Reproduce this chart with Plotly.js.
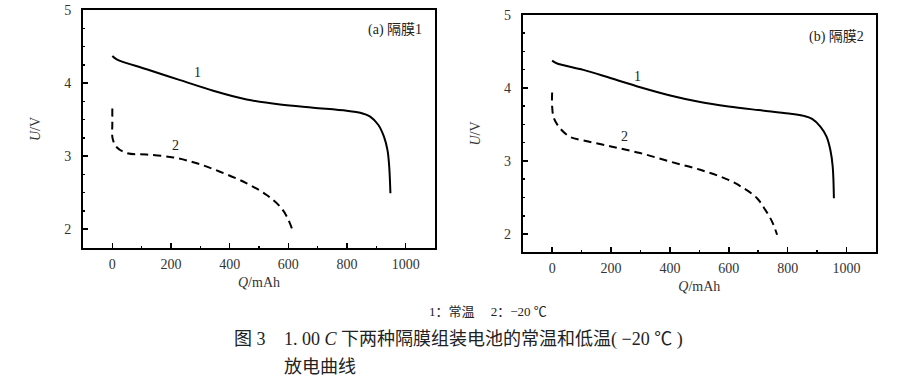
<!DOCTYPE html>
<html><head><meta charset="utf-8">
<script src="https://cdn.plot.ly/plotly-3.0.1.min.js"></script>
<style>body{margin:0;background:#fff}#c{width:911px;height:382px}</style>
</head><body><div id="c"></div>
<script>
// Panel (a) 隔膜1
const a1Q = [0, 15, 117, 231, 344, 458, 572, 685, 799, 845, 879, 907, 926, 938, 944, 948];
const a1U = [4.37, 4.325, 4.188, 4.04, 3.895, 3.775, 3.705, 3.662, 3.62, 3.593, 3.54, 3.425, 3.265, 3.08, 2.85, 2.49];
const a2Q = [0, 0, 1, 15, 49, 117, 208, 288, 367, 458, 526, 572, 595, 612];
const a2U = [3.65, 3.45, 3.24, 3.12, 3.04, 3.02, 2.98, 2.90, 2.785, 2.626, 2.466, 2.306, 2.17, 2.01];
// Panel (b) 隔膜2
const b1Q = [0, 15, 106, 200, 299, 401, 503, 599, 701, 804, 855, 883, 911, 932, 945, 953, 957];
const b1U = [4.372, 4.336, 4.245, 4.13, 4.008, 3.895, 3.805, 3.745, 3.695, 3.648, 3.616, 3.575, 3.47, 3.333, 3.15, 2.92, 2.49];
const b2Q = [0, 0, 6, 26, 60, 106, 200, 299, 401, 503, 599, 650, 696, 724, 747, 764];
const b2U = [3.935, 3.743, 3.585, 3.45, 3.33, 3.28, 3.197, 3.107, 2.99, 2.878, 2.74, 2.628, 2.49, 2.33, 2.17, 1.99];

const panelLabels = ['(a) 隔膜1', '(b) 隔膜2'];
const curveLabels = ['1', '2'];
const xTitle = '<i>Q</i>/mAh';
const yTitle = '<i>U</i>/V';
const legendText = '1：常温　 2：−20 ℃';
const captionNo = '图 3';
const captionL1 = '1. 00 <i>C</i> 下两种隔膜组装电池的常温和低温( −20 ℃ )';
const captionL2 = '放电曲线';

const serif = '"Times New Roman", "Liberation Serif", "Noto Sans CJK SC", serif';
const solid = {color: '#000', width: 2, shape: 'spline', smoothing: 1};
const dashed = {color: '#000', width: 2, dash: '8px,5px', shape: 'spline', smoothing: 1};

const traces = [
  {x: a1Q, y: a1U, xaxis: 'x', yaxis: 'y', mode: 'lines', line: solid},
  {x: a2Q, y: a2U, xaxis: 'x', yaxis: 'y', mode: 'lines', line: dashed},
  {x: b1Q, y: b1U, xaxis: 'x2', yaxis: 'y2', mode: 'lines', line: solid},
  {x: b2Q, y: b2U, xaxis: 'x2', yaxis: 'y2', mode: 'lines', line: dashed}
];

const tf = {family: serif, size: 14, color: '#333'};
function xa(dom, anchor) {
  return {domain: dom, anchor: anchor, range: [-100, 1100], showline: true, linewidth: 2, linecolor: '#000',
    mirror: true, ticks: 'inside', ticklen: 5, tickwidth: 1.5, tickcolor: '#000', tick0: 0, dtick: 200,
    minor: {dtick: 100, ticks: 'inside', ticklen: 2, tickwidth: 1.5, tickcolor: '#000'},
    showgrid: false, zeroline: false, tickfont: tf, ticklabelstandoff: 2,
    title: {text: xTitle, font: tf, standoff: 6}};
}
function ya(dom, anchor, lo) {
  return {domain: dom, anchor: anchor, range: [lo, 5], showline: true, linewidth: 2, linecolor: '#000',
    mirror: true, ticks: 'inside', ticklen: 5, tickwidth: 1.5, tickcolor: '#000', tick0: 2, dtick: 1,
    minor: {dtick: 0.25, ticks: 'inside', ticklen: 2, tickwidth: 1.5, tickcolor: '#000'},
    showgrid: false, zeroline: false, tickfont: tf, ticklabelstandoff: 7,
    title: {text: yTitle, font: tf, standoff: 20}};
}

const ann = [];
function t(text, x, y, xref, yref, size, xanchor) {
  ann.push({text: text, x: x, y: y, xref: xref, yref: yref, showarrow: false,
    xanchor: xanchor || 'center', yanchor: 'middle', font: {family: serif, size: size, color: '#222'}});
}
t(panelLabels[0], 964, 4.73, 'x', 'y', 14);
t(panelLabels[1], 965, 4.7, 'x2', 'y2', 14);
t(curveLabels[0], 289, 4.15, 'x', 'y', 14);
t(curveLabels[1], 216, 3.14, 'x', 'y', 14);
t(curveLabels[0], 289, 4.153, 'x2', 'y2', 14);
t(curveLabels[1], 246, 3.33, 'x2', 'y2', 14);
t(legendText, 488 / 911, 1 - 311.5 / 382, 'paper', 'paper', 13);
t(captionNo, 231.5 / 911, 1 - 339 / 382, 'paper', 'paper', 18, 'left');
t(captionL1, 281.5 / 911, 1 - 339 / 382, 'paper', 'paper', 18, 'left');
t(captionL2, 281.5 / 911, 1 - 367 / 382, 'paper', 'paper', 18, 'left');

const layout = {
  width: 911, height: 382, margin: {l: 0, r: 0, t: 0, b: 0},
  paper_bgcolor: '#fff', plot_bgcolor: '#fff', showlegend: false,
  xaxis: xa([83 / 911, 435 / 911], 'y'),
  yaxis: ya([1 - 248 / 382, 1 - 10 / 382], 'x', 1.74),
  xaxis2: xa([522.7 / 911, 876 / 911], 'y2'),
  yaxis2: ya([1 - 252.3 / 382, 1 - 14.7 / 382], 'x2', 1.75),
  annotations: ann
};
Plotly.newPlot('c', traces, layout, {displayModeBar: false, staticPlot: true});
</script></body></html>
